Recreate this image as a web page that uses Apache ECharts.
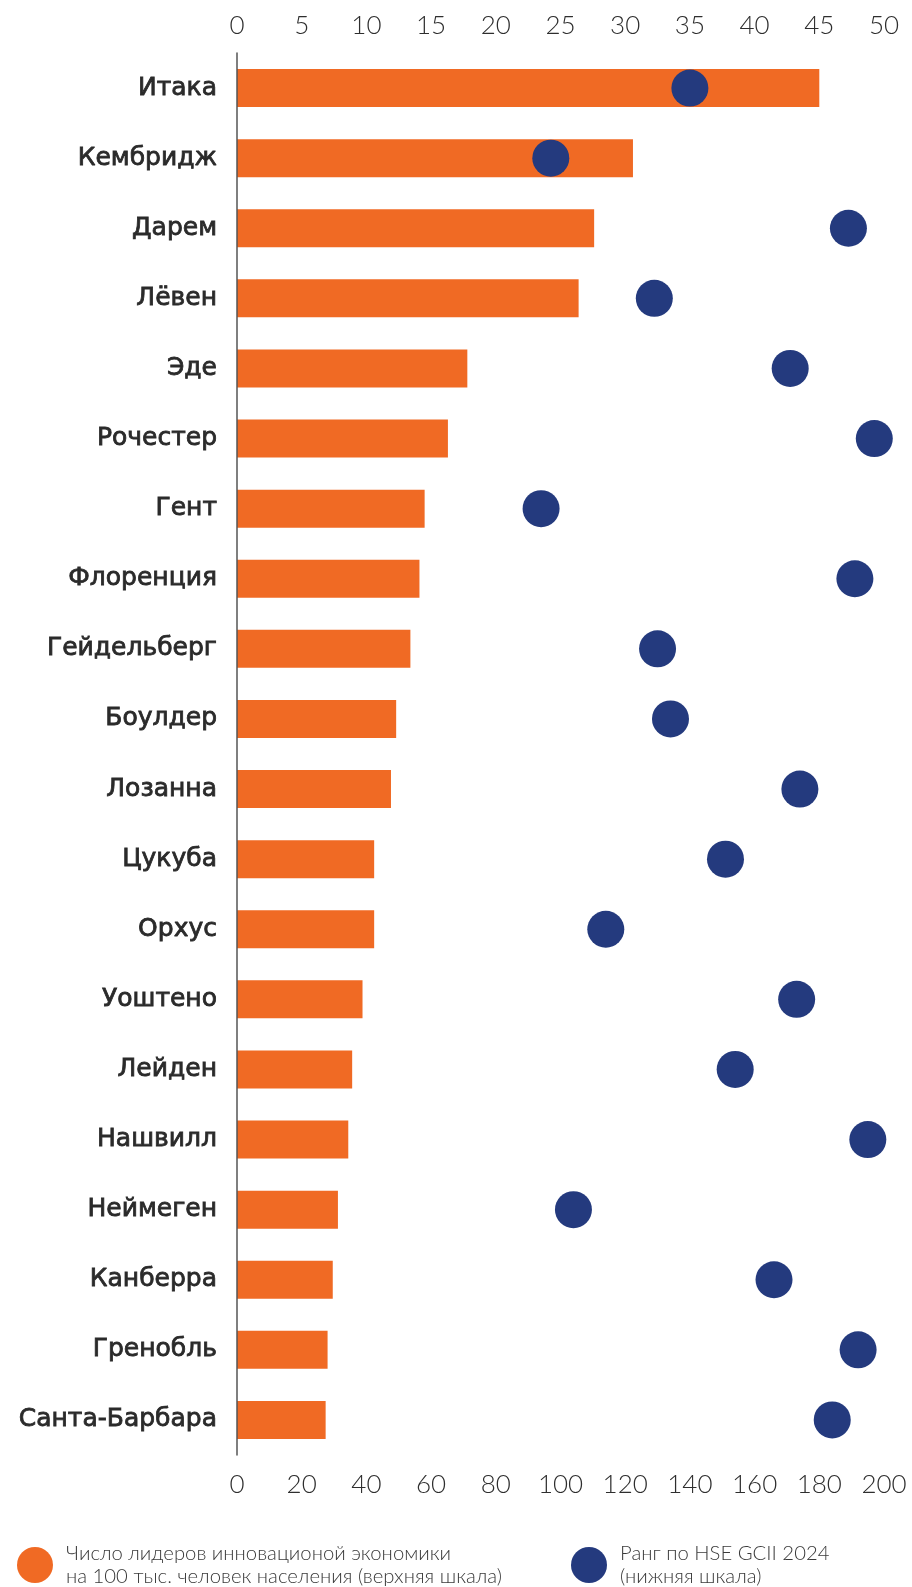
<!DOCTYPE html>
<html>
<head>
<meta charset="utf-8">
<style>
  html, body { margin: 0; padding: 0; background: #fff; }
  #chart { width: 912px; height: 1587px; }
</style>
<script src="https://cdn.jsdelivr.net/npm/echarts@6/dist/echarts.min.js"></script>
</head>
<body>
<div id="chart"></div>
<script>
// Cities, top to bottom
const cities = [
  'Итака', 'Кембридж', 'Дарем', 'Лёвен', 'Эде', 'Рочестер', 'Гент', 'Флоренция',
  'Гейдельберг', 'Боулдер', 'Лозанна', 'Цукуба', 'Орхус', 'Уоштено', 'Лейден',
  'Нашвилл', 'Неймеген', 'Канберра', 'Гренобль', 'Санта-Барбара'
];
// Leaders of the innovation economy per 100k population (top scale)
const leadersPer100k = [
  45, 30.6, 27.6, 26.4, 17.8, 16.3, 14.5, 14.1, 13.4, 12.3,
  11.9, 10.6, 10.6, 9.7, 8.9, 8.6, 7.8, 7.4, 7.0, 6.85
];
// HSE GCII 2024 rank (bottom scale)
const gciiRank = [
  140, 97, 189, 129, 171, 197, 94, 191, 130, 134,
  174, 151, 114, 173, 154, 195, 104, 166, 192, 184
];
const topTicks = { min: 0, max: 50, interval: 5 };
const bottomTicks = { min: 0, max: 200, interval: 20 };
const seriesNames = ['Лидеры', 'Ранг'];
const legendTexts = [
  'Число лидеров инновационой экономики\nна 100 тыс. человек населения (верхняя шкала)',
  'Ранг по HSE GCII 2024\n(нижняя шкала)'
];

const ORANGE = '#F06A24';
const NAVY = '#243A7E';
const FONT = 'Lato, "Noto Sans", sans-serif';
const LABEL_COLOR = '#2a2a2a';

const chart = echarts.init(document.getElementById('chart'), null, { renderer: 'canvas' });

const tickLabel = {
  fontFamily: FONT,
  fontSize: 26,
  fontWeight: 300,
  color: '#2e2e2e'
};

const legendText = {
  fontFamily: FONT,
  fontSize: 20.3,
  fontWeight: 300,
  color: '#3a3a3a',
  lineHeight: 23,
  padding: [0, 0, 0, 8]
};

chart.setOption({
  animation: false,
  backgroundColor: '#fff',
  grid: { left: 237, right: 28, top: 53, bottom: 132, containLabel: false },
  legend: [
    {
      data: [seriesNames[0]],
      left: 12, top: 1537,
      icon: 'circle', itemWidth: 36, itemHeight: 38, itemGap: 0,
      formatter: () => legendTexts[0],
      textStyle: legendText,
      selectedMode: false
    },
    {
      data: [seriesNames[1]],
      left: 566, top: 1537,
      icon: 'circle', itemWidth: 36, itemHeight: 38, itemGap: 0,
      formatter: () => legendTexts[1],
      textStyle: legendText,
      selectedMode: false
    }
  ],
  xAxis: [
    {
      type: 'value', position: 'top',
      min: topTicks.min, max: topTicks.max, interval: topTicks.interval,
      axisLine: { show: false }, axisTick: { show: false }, splitLine: { show: false },
      axisLabel: Object.assign({ margin: 14 }, tickLabel)
    },
    {
      type: 'value', position: 'bottom',
      min: bottomTicks.min, max: bottomTicks.max, interval: bottomTicks.interval,
      axisLine: { show: false }, axisTick: { show: false }, splitLine: { show: false },
      axisLabel: Object.assign({ margin: 17 }, tickLabel)
    }
  ],
  yAxis: {
    type: 'category',
    data: cities,
    inverse: true,
    z: 10,
    axisLine: { show: true, lineStyle: { color: '#555', width: 1.5 } },
    axisTick: { show: false },
    axisLabel: {
      fontFamily: '"DejaVu Sans", sans-serif',
      fontSize: 25,
      fontWeight: 'normal',
      color: LABEL_COLOR,
      textBorderColor: LABEL_COLOR,
      textBorderWidth: 0.8,
      margin: 20
    }
  },
  series: [
    {
      name: seriesNames[0],
      type: 'bar',
      xAxisIndex: 0,
      data: leadersPer100k,
      barWidth: 38,
      itemStyle: { color: ORANGE },
      z: 2
    },
    {
      name: seriesNames[1],
      type: 'scatter',
      xAxisIndex: 1,
      data: gciiRank,
      symbolSize: 37,
      itemStyle: { color: NAVY, opacity: 1 },
      z: 3
    }
  ]
});
</script>
</body>
</html>
